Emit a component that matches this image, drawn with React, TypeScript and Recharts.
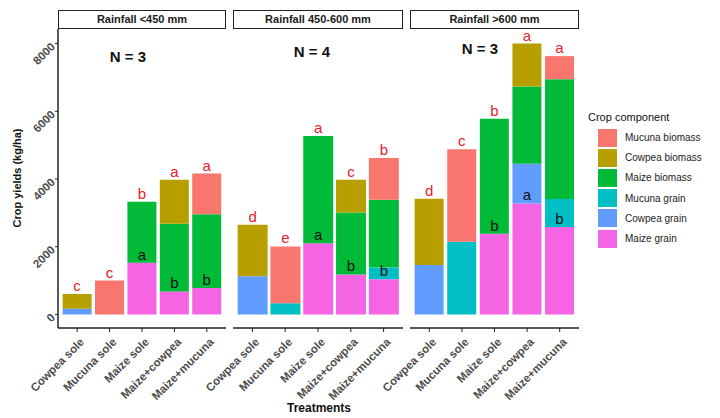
import { BarChart, Bar, XAxis, YAxis, LabelList } from 'recharts';

const treatments = ['Cowpea sole', 'Mucuna sole', 'Maize sole', 'Maize+cowpea', 'Maize+mucuna'];
const rainfallPanels = ['Rainfall <450 mm', 'Rainfall 450-600 mm', 'Rainfall >600 mm'];
const sampleSizes = ['N = 3', 'N = 4', 'N = 3'];
const yTicks = [0, 2000, 4000, 6000, 8000];

// one row per rainfall panel, values follow treatments order (kg/ha)
const maizeGrain = [[0, 0, 1530, 680, 780], [0, 0, 2100, 1180, 1040], [0, 0, 2380, 3280, 2580]];
const cowpeaGrain = [[170, 0, 0, 0, 0], [1130, 0, 0, 0, 0], [1460, 0, 0, 1170, 0]];
const mucunaGrain = [[0, 0, 0, 0, 0], [0, 330, 0, 0, 350], [0, 2150, 0, 0, 830]];
const maizeBiomass = [[0, 0, 1800, 2000, 2180], [0, 0, 3170, 1830, 2000], [0, 0, 3400, 2280, 3540]];
const cowpeaBiomass = [[430, 0, 0, 1300, 0], [1520, 0, 0, 970, 0], [1960, 0, 0, 1270, 0]];
const mucunaBiomass = [[0, 1000, 0, 0, 1200], [0, 1680, 0, 0, 1230], [0, 2730, 0, 0, 680]];

const totalLetters = [['c', 'c', 'b', 'a', 'a'], ['d', 'e', 'a', 'c', 'b'], ['d', 'c', 'b', 'a', 'a']];
const grainLetters = [['', '', 'a', 'b', 'b'], ['', '', 'a', 'b', 'b'], ['', '', 'b', 'a', 'b']];

// stacking order, bottom first
const components = [
  { key: 'maizeGrain', name: 'Maize grain', color: '#F564E3', values: maizeGrain },
  { key: 'cowpeaGrain', name: 'Cowpea grain', color: '#619CFF', values: cowpeaGrain },
  { key: 'mucunaGrain', name: 'Mucuna grain', color: '#00BFC4', values: mucunaGrain },
  { key: 'maizeBiomass', name: 'Maize biomass', color: '#00BA38', values: maizeBiomass },
  { key: 'cowpeaBiomass', name: 'Cowpea biomass', color: '#B79F00', values: cowpeaBiomass },
  { key: 'mucunaBiomass', name: 'Mucuna biomass', color: '#F8766D', values: mucunaBiomass },
];

const FONT = '"Liberation Sans", Arial, Helvetica, sans-serif';
const PANEL_TOP = 29;
const PLOT_H = 299;
const AXIS_H = 90;
const panelBoxes = [
  { left: 58, width: 168 },
  { left: 233, width: 170 },
  { left: 410, width: 169 },
];
const nLabelPos = [
  { x: 128, y: 57 },
  { x: 312, y: 52 },
  { x: 480, y: 49 },
];

// index of the highest non-zero component in a stack
function topComponent(p: number, i: number) {
  let top = -1;
  components.forEach((c, ci) => { if (c.values[p][i] > 0) top = ci; });
  return top;
}

function XTick({ x, y, payload }: any) {
  return (
    <text
      transform={`translate(${x + 2},${y + 3}) rotate(-45)`}
      textAnchor="end"
      dy="0.7em"
      fontSize={11.5}
      fontWeight="bold"
      fill="#4D4D4D"
      fontFamily={FONT}
    >
      {payload.value}
    </text>
  );
}

function YTick({ x, y, payload }: any) {
  return (
    <text
      transform={`translate(${x},${y + 1}) rotate(-45)`}
      textAnchor="end"
      dy="0.35em"
      fontSize={11.5}
      fontWeight="bold"
      fill="#4D4D4D"
      fontFamily={FONT}
    >
      {payload.value}
    </text>
  );
}

function letterLabel(p: number, ci: number) {
  return (props: any) => {
    const vb = props.viewBox || props;
    const x = vb.x ?? props.x;
    const y = vb.y ?? props.y;
    const w = vb.width ?? props.width;
    const i = treatments.indexOf(props.value);
    if (i < 0) return null;
    const out = [];
    if (ci === 0 && grainLetters[p][i]) {
      out.push(
        <text key="g" x={x + w / 2} y={y - 3} textAnchor="middle" fontSize={15} fill="#111" fontFamily={FONT}>
          {grainLetters[p][i]}
        </text>
      );
    }
    if (ci === topComponent(p, i)) {
      out.push(
        <text key="t" x={x + w / 2} y={y - 3} textAnchor="middle" fontSize={15} fill="#E8202A" fontFamily={FONT}>
          {totalLetters[p][i]}
        </text>
      );
    }
    return <g>{out}</g>;
  };
}

function Panel({ p }: { p: number }) {
  const box = panelBoxes[p];
  const first = p === 0;
  const rows = treatments.map((t, i) => {
    const row: Record<string, any> = { name: t };
    components.forEach(c => { row[c.key] = c.values[p][i]; });
    return row;
  });
  const chartLeft = first ? 0 : box.left;
  const chartW = first ? box.left + box.width : box.width;
  const pad = Math.round(box.width / 52);

  return (
    <div style={{ position: 'absolute', left: chartLeft, top: PANEL_TOP }}>
      <BarChart
        width={chartW}
        height={PLOT_H + AXIS_H}
        data={rows}
        margin={{ top: 0, right: 0, bottom: 0, left: 0 }}
        barCategoryGap="5%"
        style={{ overflow: 'visible' }}
      >
        <XAxis
          dataKey="name"
          interval={0}
          height={AXIS_H}
          padding={{ left: pad, right: pad }}
          tick={<XTick />}
          tickSize={4}
          tickLine={{ stroke: '#222' }}
          axisLine={{ stroke: '#222', strokeWidth: 1.5 }}
        />
        <YAxis
          hide={!first}
          width={58}
          type="number"
          domain={[-401, 8431]}
          ticks={yTicks}
          tick={<YTick />}
          tickSize={3}
          tickLine={{ stroke: '#222' }}
          axisLine={{ stroke: '#222', strokeWidth: 1.5 }}
        />
        {components.map((c, ci) => (
          <Bar key={c.key} dataKey={c.key} name={c.name} stackId="s" fill={c.color} isAnimationActive={false}>
            <LabelList dataKey={(row: any) => row.name} content={letterLabel(p, ci)} />
          </Bar>
        ))}
      </BarChart>
    </div>
  );
}

export default function App() {
  const legendItems = [...components].reverse();
  return (
    <div style={{ position: 'absolute', left: 0, top: 0, width: 720, height: 418, background: '#fff', fontFamily: FONT, overflow: 'hidden' }}>
      <style>{'.recharts-surface { overflow: visible; } .recharts-wrapper { overflow: visible; }'}</style>
      {panelBoxes.map((b, p) => (
        <div
          key={p}
          style={{
            position: 'absolute', left: b.left, top: 10, width: b.width, height: 19,
            boxSizing: 'border-box', border: '1.2px solid #222', fontSize: 11, fontWeight: 'bold',
            color: '#1a1a1a', textAlign: 'center', lineHeight: '17px',
          }}
        >
          {rainfallPanels[p]}
        </div>
      ))}
      {[0, 1, 2].map(p => <Panel key={p} p={p} />)}
      {nLabelPos.map((n, p) => (
        <div
          key={p}
          style={{
            position: 'absolute', left: n.x - 40, top: n.y - 9, width: 80, textAlign: 'center',
            fontSize: 15, fontWeight: 'bold', color: '#111', lineHeight: '18px',
          }}
        >
          {sampleSizes[p]}
        </div>
      ))}
      <div
        style={{
          position: 'absolute', left: 17 - 60, top: 178 - 7, width: 120, height: 14, textAlign: 'center',
          transform: 'rotate(-90deg)', fontSize: 11, fontWeight: 'bold', color: '#111', lineHeight: '14px',
        }}
      >
        Crop yields (kg/ha)
      </div>
      <div
        style={{
          position: 'absolute', left: 269, top: 400, width: 100, textAlign: 'center',
          fontSize: 12, fontWeight: 'bold', color: '#111', lineHeight: '16px',
        }}
      >
        Treatments
      </div>
      <div style={{ position: 'absolute', left: 588, top: 110, fontSize: 11, color: '#111', lineHeight: '14px' }}>
        Crop component
      </div>
      {legendItems.map((c, i) => (
        <div key={c.key} style={{ position: 'absolute', left: 598, top: 128 + i * 20.2, height: 19, display: 'flex', alignItems: 'center' }}>
          <div style={{ width: 19, height: 18, background: c.color }} />
          <span style={{ marginLeft: 8, fontSize: 10, color: '#222' }}>{c.name}</span>
        </div>
      ))}
    </div>
  );
}
